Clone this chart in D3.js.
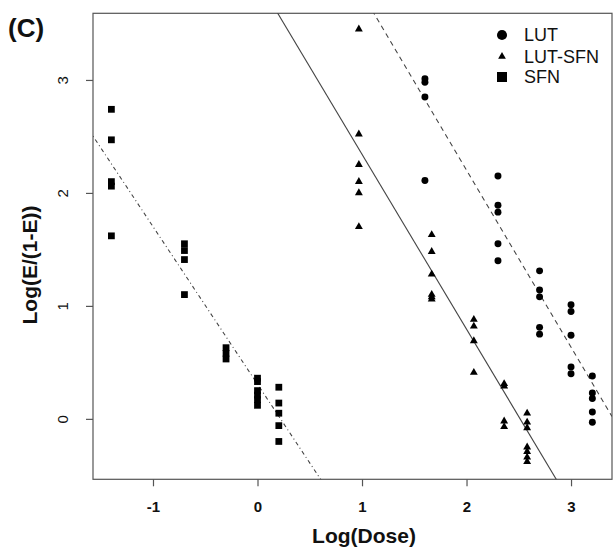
<!DOCTYPE html>
<html><head><meta charset="utf-8">
<script src="https://cdn.jsdelivr.net/npm/d3@7"></script>
<style>body{margin:0;background:#fff;} svg{display:block;font-family:"Liberation Sans",Arial,sans-serif;}</style>
</head><body><svg id="c" width="613" height="550"></svg>
<script>
// ---- data ----
const lutX = [1.602,1.602,1.602,1.602, 2.301,2.301,2.301,2.301,2.301, 2.699,2.699,2.699,2.699,2.699, 3.0,3.0,3.0,3.0,3.0, 3.204,3.204,3.204,3.204,3.204];
const lutY = [3.01,2.98,2.85,2.11, 2.15,1.89,1.83,1.55,1.40, 1.31,1.14,1.08,0.81,0.75, 1.01,0.95,0.74,0.46,0.40, 0.38,0.23,0.18,0.06,-0.03];
const lutSfnX = [0.97,0.97,0.97,0.97,0.97,0.97, 1.667,1.667,1.667,1.667,1.667,1.667, 2.07,2.07,2.07,2.07, 2.36,2.36,2.36,2.36, 2.58,2.58,2.58,2.58,2.58,2.58,2.58];
const lutSfnY = [3.45,2.52,2.25,2.10,2.00,1.70, 1.63,1.48,1.28,1.10,1.08,1.06, 0.88,0.82,0.69,0.41, 0.31,0.29,-0.02,-0.07, 0.05,-0.03,-0.08,-0.25,-0.29,-0.34,-0.38];
const sfnX = [-1.398,-1.398,-1.398,-1.398,-1.398, -0.699,-0.699,-0.699,-0.699, -0.301,-0.301,-0.301, 0,0,0,0,0,0, 0.204,0.204,0.204,0.204,0.204];
const sfnY = [2.74,2.47,2.10,2.06,1.62, 1.55,1.49,1.41,1.10, 0.63,0.58,0.53, 0.36,0.33,0.25,0.21,0.17,0.12, 0.28,0.14,0.05,-0.06,-0.20];
// fitted lines: intercept, slope
const fitNames = ["LUT","LUT-SFN","SFN"];
const fitIntercepts = [5.336, 3.890, 0.307];
const fitSlopes = [-1.567, -1.548, -1.395];
const xTicks = [-1,0,1,2,3];
const yTicks = [0,1,2,3];
const legendLabels = ["LUT","LUT-SFN","SFN"];

// ---- layout ----
const svg = d3.select("#c");
const L=93, R=612, T=13.3, B=479.3;
const x = d3.scaleLinear().domain([-1.574,3.392]).range([L,R]);
const y = d3.scaleLinear().domain([-0.535,3.59]).range([B,T]);
const axisCol = "#555";
const fmt = d => String(d);

svg.append("defs").append("clipPath").attr("id","pc")
  .append("rect").attr("x",L).attr("y",T).attr("width",R-L).attr("height",B-T);

// box
svg.append("rect").attr("x",L).attr("y",T).attr("width",R-L).attr("height",B-T)
  .attr("fill","none").attr("stroke",axisCol).attr("stroke-width",1.2);

// axes
const xa = svg.append("g").attr("transform",`translate(0,${B})`)
  .call(d3.axisBottom(x).tickValues(xTicks).tickSize(7).tickPadding(15).tickFormat(fmt));
xa.select(".domain").remove();
xa.selectAll("line").attr("stroke",axisCol).attr("stroke-width",1.2);
xa.selectAll("text").attr("font-size",15).attr("font-weight","bold").attr("fill","#111")
  .attr("font-family","'Liberation Sans',Arial,sans-serif");

const ya = svg.append("g").attr("transform",`translate(${L},0)`)
  .call(d3.axisLeft(y).tickValues(yTicks).tickSize(7).tickFormat(fmt));
ya.select(".domain").remove();
ya.selectAll("line").attr("stroke",axisCol).attr("stroke-width",1.2);
ya.selectAll("text").remove();
ya.selectAll(".tick").append("text")
  .attr("transform","translate(-30,0) rotate(-90)")
  .attr("text-anchor","middle").attr("dy","0.35em")
  .attr("font-size",15).attr("fill","#111")
  .attr("font-family","'Liberation Sans',Arial,sans-serif")
  .text(fmt);

// axis titles
svg.append("text").attr("x",364).attr("y",543).attr("text-anchor","middle")
  .attr("font-size",21).attr("font-weight","bold").attr("fill","#111").text("Log(Dose)");
svg.append("text").attr("transform","translate(37,265) rotate(-90)").attr("text-anchor","middle")
  .attr("font-size",21).attr("font-weight","bold").attr("fill","#111").text("Log(E/(1-E))");
svg.append("text").attr("x",8).attr("y",37).attr("font-size",26).attr("font-weight","bold")
  .attr("fill","#111").text("(C)");

// fitted lines
const dashes = [ "5,4", null, "1,3,4,3" ];
const pl = svg.append("g").attr("clip-path","url(#pc)");
fitNames.forEach((n,i)=>{
  const xs = x.domain();
  const pts = xs.map(v=>[x(v), y(fitIntercepts[i]+fitSlopes[i]*v)]);
  pl.append("path").attr("d", d3.line()(pts)).attr("fill","none")
    .attr("stroke","#444").attr("stroke-width",1.1)
    .attr("stroke-dasharray", dashes[i]);
});

// points
const sym = {
  circle: d3.symbol().type(d3.symbolCircle).size(38),
  tri: d3.symbol().type(d3.symbolTriangle).size(27),
  sq: d3.symbol().type(d3.symbolSquare).size(46)
};
const g = svg.append("g");
function pts(xs, ys, s){
  g.selectAll(null).data(xs.map((v,i)=>[v,ys[i]])).enter().append("path")
   .attr("d", s).attr("transform", d=>`translate(${x(d[0])},${y(d[1])})`).attr("fill","#000");
}
pts(lutX, lutY, sym.circle());
pts(lutSfnX, lutSfnY, sym.tri());
pts(sfnX, sfnY, sym.sq());

// legend
const lg = svg.append("g");
const legSyms = [d3.symbol().type(d3.symbolCircle).size(80)(), d3.symbol().type(d3.symbolTriangle).size(26)(), d3.symbol().type(d3.symbolSquare).size(100)()];
const legY = [35, 56.5, 77];
legendLabels.forEach((t,i)=>{
  lg.append("path").attr("d",legSyms[i]).attr("transform",`translate(502,${legY[i]})`).attr("fill","#000");
  lg.append("text").attr("x",524).attr("y",legY[i]).attr("dy","0.36em").attr("font-size",18).attr("fill","#111").text(t);
});
</script></body></html>
